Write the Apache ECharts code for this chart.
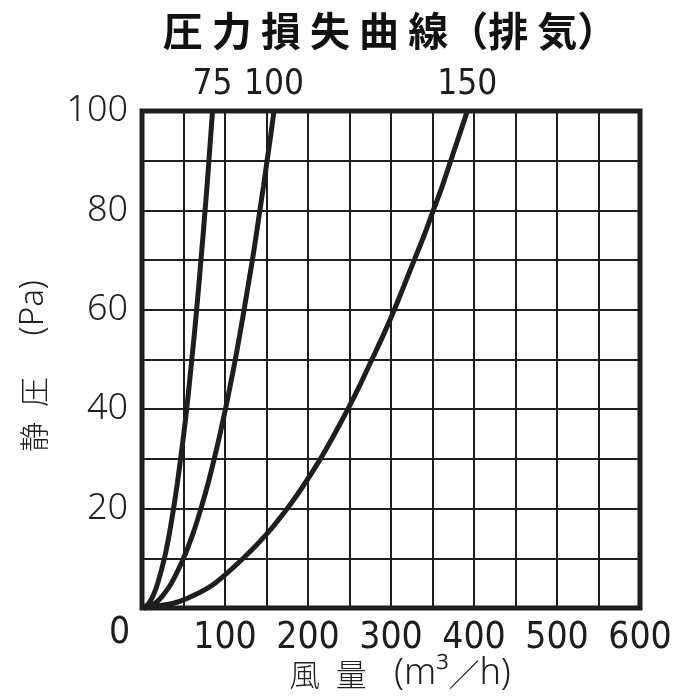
<!DOCTYPE html>
<html><head><meta charset="utf-8">
<script src="https://cdn.jsdelivr.net/npm/echarts@6/dist/echarts.min.js"></script>
<style>html,body{margin:0;padding:0;background:#fff}#c{width:700px;height:700px}</style>
</head><body><div id="c"></div>
<script>
// ---- data ----
const titleText = '圧 力 損 失 曲 線（排 気）';
const xNameCjk = '風\u2002量';
const xNameUnit = ['(m³', '／', 'h)'];
const yNameCjk = '静\u2002圧';
const yNameUnit = '(Pa)';
const xLabeled = [100, 200, 300, 400, 500, 600];
const yLabeled = [20, 40, 60, 80, 100];
const originLabel = '0';
const curveNames = ['75', '100', '150'];
const flow75  = [2, 8.5, 13.5, 19, 27, 33, 38, 42.5, 46.5, 50.3, 53.8, 57, 60, 63, 65.8, 68.5, 71, 73.6, 76, 78.4, 80.6, 82.8, 85];
const pa75    = [0, 1, 2.5, 5, 10, 15, 20, 25, 30, 35, 40, 45, 50, 55, 60, 65, 70, 75, 80, 85, 90, 95, 100];
const flow100 = [2, 16, 25, 35.5, 50, 61.5, 71, 79.5, 87, 94, 100.5, 106.6, 112.4, 117.8, 123, 128, 133, 137.6, 142, 146.5, 150.7, 155, 159];
const pa100   = [0, 1, 2.5, 5, 10, 15, 20, 25, 30, 35, 40, 45, 50, 55, 60, 65, 70, 75, 80, 85, 90, 95, 100];
const flow150 = [2, 39, 62, 88, 122, 151, 175, 196, 215, 232, 248, 263, 277, 291, 304, 316, 328, 340, 351, 362, 372, 382, 392];
const pa150   = [0, 1, 2.5, 5, 10, 15, 20, 25, 30, 35, 40, 45, 50, 55, 60, 65, 70, 75, 80, 85, 90, 95, 100];

const ink = '#1e1e1e';
const narrow = "'Liberation Sans Narrow', 'DejaVu Sans Condensed', sans-serif";
const chart = echarts.init(document.getElementById('c'), null, {renderer: 'canvas'});

function mk(name, xs, ys) {
  const data = xs.map((x, i) => [x, ys[i]]);
  return {type: 'line', name, data, smooth: 0.3, showSymbol: false,
    symbol: 'none', clip: false, lineStyle: {color: ink, width: 5}, z: 5, silent: true,
    endLabel: {show: true, formatter: name, distance: 0, offset: [0, -9], align: 'center', verticalAlign: 'bottom',
      fontFamily: narrow, fontWeight: 'normal', fontSize: 35, color: ink}};
}

chart.setOption({
  animation: false,
  grid: {left: 142, right: 60, top: 111, bottom: 92, show: true, borderColor: ink, borderWidth: 5, z: 10},
  xAxis: {
    type: 'value', min: 0, max: 600, interval: 50,
    axisLine: {show: false}, axisTick: {show: false},
    splitLine: {show: true, lineStyle: {color: ink, width: 2}},
    axisLabel: {margin: 12, fontFamily: narrow, fontSize: 37, color: ink,
      formatter: v => xLabeled.includes(v) ? String(v) : ''}
  },
  yAxis: {
    type: 'value', min: 0, max: 100, interval: 10,
    axisLine: {show: false}, axisTick: {show: false},
    splitLine: {show: true, lineStyle: {color: ink, width: 2}},
    axisLabel: {margin: 14, fontFamily: 'Noto Sans', fontWeight: 300, fontSize: 36, color: ink,
      formatter: v => yLabeled.includes(v) ? String(v) : ''}
  },
  graphic: [
    {type: 'text', x: 390, y: 31, style: {text: titleText, fontFamily: 'Noto Sans CJK JP', fontWeight: 'bold',
      fontSize: 40, fill: '#111', align: 'center', verticalAlign: 'middle'}},
    {type: 'text', x: 400, y: 674, style: {
      text: '{c|' + xNameCjk + '}{l|\u2002 ' + xNameUnit[0] + '}{c|' + xNameUnit[1] + '}{l|' + xNameUnit[2] + '}',
      align: 'center', verticalAlign: 'middle', fill: ink,
      rich: {c: {fontFamily: 'Noto Sans CJK JP', fontWeight: 300, fontSize: 31, fill: ink},
             l: {fontFamily: 'Noto Sans', fontWeight: 300, fontSize: 36, fill: ink}}}},
    {type: 'text', x: 34, y: 366, rotation: Math.PI / 2, style: {
      text: '{c|' + yNameCjk + '}{l|\u2002\u2002 ' + yNameUnit + '}',
      align: 'center', verticalAlign: 'middle', fill: ink,
      rich: {c: {fontFamily: 'Noto Sans CJK JP', fontWeight: 300, fontSize: 30, fill: ink},
             l: {fontFamily: 'Noto Sans', fontWeight: 300, fontSize: 33, fill: ink}}}},
    {type: 'text', x: 119.5, y: 633, style: {text: originLabel, fontFamily: narrow,
      fontSize: 37, fill: ink, align: 'center', verticalAlign: 'middle'}}
  ],
  series: [mk(curveNames[0], flow75, pa75), mk(curveNames[1], flow100, pa100), mk(curveNames[2], flow150, pa150)]
});
</script>
</body></html>
